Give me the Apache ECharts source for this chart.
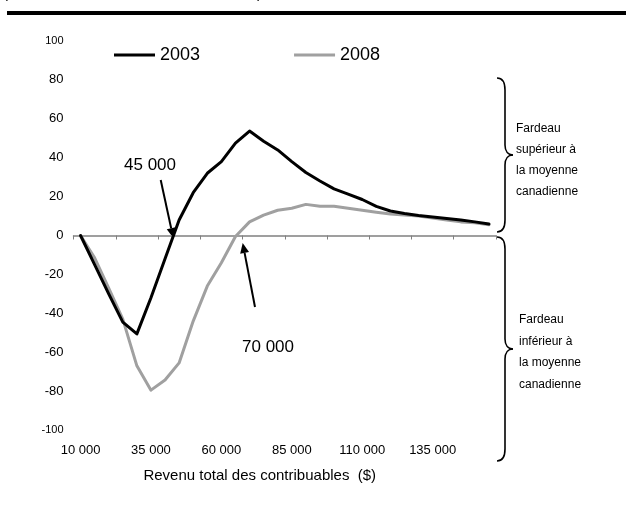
<!DOCTYPE html>
<html>
<head>
<meta charset="utf-8">
<script src="https://cdn.jsdelivr.net/npm/echarts@6/dist/echarts.min.js"></script>
<style>
html,body{margin:0;padding:0;background:#fff;}
#chart{width:626px;height:519px;}
</style>
</head>
<body>
<div id="chart"></div>
<script>
var categories = ['10 000','15 000','20 000','25 000','30 000','35 000','40 000','45 000','50 000','55 000',
  '60 000','65 000','70 000','75 000','80 000','85 000','90 000','95 000','100 000','105 000',
  '110 000','115 000','120 000','125 000','130 000','135 000','140 000','145 000','150 000','155 000'];
var series2003 = [0,-15,-30,-44.5,-50.6,-32,-12,8,22,32,38,47.5,53.7,48.5,44,38,32.4,28,24,21.3,18.5,15,12.6,11.3,10.3,9.5,8.7,8,7,5.9];
var series2008 = [0,-11.5,-27,-43,-67,-79.5,-74.3,-65.5,-44,-26,-14,-0.5,7,10.5,13,14,16,15,15,14,13,12,11,10.5,10,9,8,7,6.5,5.5];
var yTicks = [-100,-80,-60,-40,-20,0,20,40,60,80,100];

var FONT = 'Liberation Sans';
var chart = echarts.init(document.getElementById('chart'));

function arrow(x1, y1, x2, y2, head, half) {
  var dx = x2 - x1, dy = y2 - y1, L = Math.sqrt(dx*dx + dy*dy);
  var ux = dx / L, uy = dy / L, nx = -uy, ny = ux;
  var bx = x2 - head*ux, by = y2 - head*uy;
  return [
    {type:'line', shape:{x1:x1, y1:y1, x2:bx, y2:by}, style:{stroke:'#000', lineWidth:2}},
    {type:'polygon', shape:{points:[[x2,y2],[bx+half*nx,by+half*ny],[bx-half*nx,by-half*ny]]}, style:{fill:'#000'}}
  ];
}
function brace(x0, top, mid, bot, xm) {
  var xs = x0 + 8;
  var st = {stroke:'#000', lineWidth:1.6, fill:null};
  return [
    {type:'bezierCurve', shape:{x1:x0, y1:top, cpx1:x0+6, cpy1:top, cpx2:xs, cpy2:top+4, x2:xs, y2:top+12}, style:st},
    {type:'line', shape:{x1:xs, y1:top+12, x2:xs, y2:mid-10}, style:st},
    {type:'bezierCurve', shape:{x1:xs, y1:mid-10, cpx1:xs, cpy1:mid-4, cpx2:xs+3, cpy2:mid, x2:xm, y2:mid}, style:st},
    {type:'bezierCurve', shape:{x1:xm, y1:mid, cpx1:xs+3, cpy1:mid, cpx2:xs, cpy2:mid+4, x2:xs, y2:mid+10}, style:st},
    {type:'line', shape:{x1:xs, y1:mid+10, x2:xs, y2:bot-12}, style:st},
    {type:'bezierCurve', shape:{x1:xs, y1:bot-12, cpx1:xs, cpy1:bot-4, cpx2:x0+6, cpy2:bot, x2:x0, y2:bot}, style:st}
  ];
}
var graphics = [
  {type:'rect', shape:{x:7, y:11, width:619, height:4}, style:{fill:'#000'}},
  {type:'text', x:3, y:-14, style:{text:'(', font:'15px ' + FONT, fill:'#000'}},
  {type:'text', x:257, y:-14, style:{text:')', font:'15px ' + FONT, fill:'#000'}},
  {type:'text', x:124, y:157, style:{text:'45 000', font:'17px ' + FONT, fill:'#000'}},
  {type:'text', x:242, y:339, style:{text:'70 000', font:'17px ' + FONT, fill:'#000'}},
  {type:'text', x:516, y:118, style:{text:'Fardeau\nsupérieur à\nla moyenne\ncanadienne', font:'12px ' + FONT, lineHeight:21, fill:'#000'}},
  {type:'text', x:519, y:309, style:{text:'Fardeau\ninférieur à\nla moyenne\ncanadienne', font:'12px ' + FONT, lineHeight:21.5, fill:'#000'}}
].concat(brace(497, 78, 155, 232, 513))
 .concat(brace(497, 237, 349, 461, 513))
 .concat(arrow(160.7, 180, 173.3, 238, 10, 4.5))
 .concat(arrow(255, 307, 242.7, 243, 10, 4.5));

chart.setOption({
  animation:false,
  backgroundColor:'#fff',
  textStyle:{fontFamily:FONT},
  grid:{left:73.5, right:130, top:41, bottom:89, containLabel:false},
  legend:{
    left:109, top:41, icon:'rect', itemWidth:41, itemHeight:3, itemGap:94,
    textStyle:{fontSize:18, color:'#000', fontFamily:FONT},
    data:['2003','2008']
  },
  xAxis:[
    {type:'category', data:categories, position:'top', boundaryGap:true,
      axisLine:{show:true, onZero:true, lineStyle:{color:'#808080', width:1.5}},
      axisTick:{show:true, inside:true, length:4, interval:2, lineStyle:{color:'#808080', width:1}},
      axisLabel:{show:false}, splitLine:{show:false}},
    {type:'category', data:categories, position:'bottom', boundaryGap:true,
      axisLine:{show:false, onZero:false}, axisTick:{show:false},
      axisLabel:{show:true, interval:4, margin:14, fontSize:13, color:'#000', fontFamily:FONT},
      name:'Revenu total des contribuables  ($)', nameLocation:'middle', nameGap:38,
      nameTextStyle:{fontSize:15, color:'#000', fontFamily:FONT, padding:[0,50,0,0]},
      splitLine:{show:false}}
  ],
  yAxis:{type:'value', min:-100, max:100, interval:20,
    axisLine:{show:false}, axisTick:{show:false}, splitLine:{show:false},
    axisLabel:{margin:10, fontSize:13, color:'#000', fontFamily:FONT,
      formatter:function(v){ return Math.abs(v) === 100 ? '{s|' + v + '}' : String(v); },
      rich:{s:{fontSize:11, color:'#000', fontFamily:FONT}}}},
  series:[
    {name:'2003', type:'line', xAxisIndex:0, data:series2003, symbol:'none', smooth:false,
      itemStyle:{color:'#000'}, lineStyle:{color:'#000', width:3, join:'round', cap:'round'}, z:3},
    {name:'2008', type:'line', xAxisIndex:0, data:series2008, symbol:'none', smooth:false,
      itemStyle:{color:'#a0a0a0'}, lineStyle:{color:'#a0a0a0', width:3, join:'round', cap:'round'}, z:2}
  ],
  graphic:graphics
});
</script>
</body>
</html>
